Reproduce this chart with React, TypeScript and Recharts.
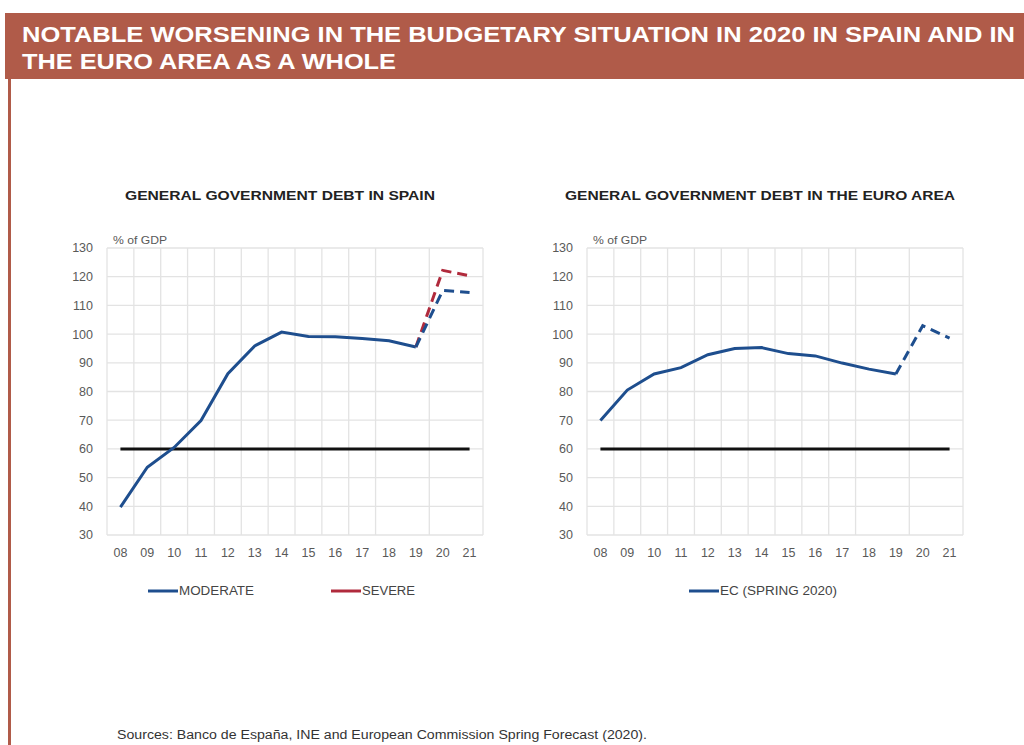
import { LineChart, Line, XAxis, YAxis, CartesianGrid } from 'recharts';

// ---- data (% of GDP) ----
const years = ['08', '09', '10', '11', '12', '13', '14', '15', '16', '17', '18', '19', '20', '21'];
const spainActual   = [39.7, 53.6, 60.5, 69.9, 86.2, 95.9, 100.7, 99.2, 99.1, 98.5, 97.7, 95.5, null, null];
const spainModerate = [null, null, null, null, null, null, null, null, null, null, null, 95.5, 115.2, 114.5];
const spainSevere   = [null, null, null, null, null, null, null, null, null, null, null, 95.5, 122.2, 120.3];
const euroActual    = [69.9, 80.5, 86.1, 88.3, 92.8, 95.0, 95.3, 93.2, 92.4, 89.9, 87.8, 86.1, null, null];
const euroForecast  = [null, null, null, null, null, null, null, null, null, null, null, 86.1, 102.9, 98.6];
const debtLimit = 60;
const yTicks = [30, 40, 50, 60, 70, 80, 90, 100, 110, 120, 130];

const BLUE = '#1E4E8E';
const RED = '#B02A3C';
const GRID = '#E3E3E3';
const TXT = '#595959';
const HEAD = '#B05B49';
const FONT = 'Liberation Sans, Arial, sans-serif';

const xTicks = years.map((_, i) => i);
// band edges, so the vertical grid sits between the years
const gridTicks = [...years.map((_, i) => i - 0.5), years.length - 0.5];

function rows(series: Record<string, (number | null)[]>) {
  return years.map((y, i) => {
    const r: Record<string, number | string | null> = { i, year: y, limit: debtLimit };
    for (const k of Object.keys(series)) r[k] = series[k][i];
    return r;
  });
}

function DebtChart({ left, data, lines }: {
  left: number;
  data: Record<string, number | string | null>[];
  lines: { key: string; color: string; dashed?: boolean }[];
}) {
  return (
    <div style={{ position: 'absolute', left, top: 230 }}>
      <LineChart width={470} height={340} data={data} margin={{ top: 18, right: 27, left: 27, bottom: 5 }}>
        <CartesianGrid stroke={GRID} strokeWidth={1.3} xAxisId="g" />
        <XAxis xAxisId="x" dataKey="i" type="number" domain={[-0.5, years.length - 0.5]} ticks={xTicks}
          interval={0} tickFormatter={(v) => years[v]} axisLine={false} tickLine={false}
          tickSize={6} tickMargin={7} height={30}
          tick={{ fill: TXT, fontSize: 12.5, fontFamily: FONT }} />
        <XAxis xAxisId="g" dataKey="i" type="number" domain={[-0.5, years.length - 0.5]} ticks={gridTicks}
          height={0} hide />
        <YAxis domain={[30, 130]} ticks={yTicks} interval={0} width={40} axisLine={false} tickLine={false}
          tickMargin={8} tick={{ fill: TXT, fontSize: 12.5, fontFamily: FONT }} />
        <Line xAxisId="x" dataKey="limit" stroke="#111" strokeWidth={3} dot={false} isAnimationActive={false} />
        {lines.map(l => (
          <Line key={l.key} xAxisId="x" dataKey={l.key} stroke={l.color} strokeWidth={3}
            strokeDasharray={l.dashed ? '10 6' : undefined} dot={false} connectNulls={false}
            isAnimationActive={false} />
        ))}
      </LineChart>
    </div>
  );
}

// Stretched text so widths follow the reference's wider face
function T({ x, y, w, size, children, weight, fill, anchor }: {
  x: number; y: number; w: number; size: number; children: string;
  weight?: string; fill?: string; anchor?: 'start' | 'middle';
}) {
  return (
    <text x={x} y={y} fontSize={size} fontFamily={FONT} fontWeight={weight ?? 'normal'} fill={fill ?? '#333'}
      textAnchor={anchor ?? 'start'} dominantBaseline="central" textLength={w} lengthAdjust="spacingAndGlyphs">
      {children}
    </text>
  );
}

function LegendItem({ x, w, color, label }: { x: number; w: number; color: string; label: string }) {
  return (
    <g>
      <line x1={x} x2={x + 30} y1={591} y2={591} stroke={color} strokeWidth={3} />
      <T x={x + 31} y={591} w={w} size={12} fill="#444">{label}</T>
    </g>
  );
}

export default function App() {
  const spain = rows({ actual: spainActual, moderate: spainModerate, severe: spainSevere });
  const euro = rows({ actual: euroActual, forecast: euroForecast });
  return (
    <div style={{ position: 'absolute', left: 0, top: 0, width: 1024, height: 745, background: '#fff', overflow: 'hidden' }}>
      {/* header band + left rule */}
      <div style={{ position: 'absolute', left: 5, top: 13, width: 1019, height: 66, background: HEAD }} />
      <div style={{ position: 'absolute', left: 8, top: 79, width: 2.5, height: 666, background: HEAD }} />

      <DebtChart left={40} data={spain} lines={[
        { key: 'actual', color: BLUE },
        { key: 'severe', color: RED, dashed: true },
        { key: 'moderate', color: BLUE, dashed: true },
      ]} />
      <DebtChart left={520} data={euro} lines={[
        { key: 'actual', color: BLUE },
        { key: 'forecast', color: BLUE, dashed: true },
      ]} />

      <svg style={{ position: 'absolute', left: 0, top: 0 }} width={1024} height={745}>
        <T x={22} y={34} w={993} size={22} weight="bold" fill="#fff">NOTABLE WORSENING IN THE BUDGETARY SITUATION IN 2020 IN SPAIN AND IN</T>
        <T x={22} y={61} w={374} size={22} weight="bold" fill="#fff">THE EURO AREA AS A WHOLE</T>

        <T x={125} y={195} w={310} size={13} weight="bold" fill="#222">GENERAL GOVERNMENT DEBT IN SPAIN</T>
        <T x={565} y={195} w={390} size={13} weight="bold" fill="#222">GENERAL GOVERNMENT DEBT IN THE EURO AREA</T>

        <T x={113} y={240} w={54} size={11} fill={TXT}>% of GDP</T>
        <T x={593} y={240} w={54} size={11} fill={TXT}>% of GDP</T>

        <LegendItem x={148} w={75} color={BLUE} label="MODERATE" />
        <LegendItem x={331} w={53} color={RED} label="SEVERE" />
        <LegendItem x={689} w={117} color={BLUE} label="EC (SPRING 2020)" />

        <T x={117} y={735} w={530} size={12} fill="#333">Sources: Banco de España, INE and European Commission Spring Forecast (2020).</T>
      </svg>
    </div>
  );
}
